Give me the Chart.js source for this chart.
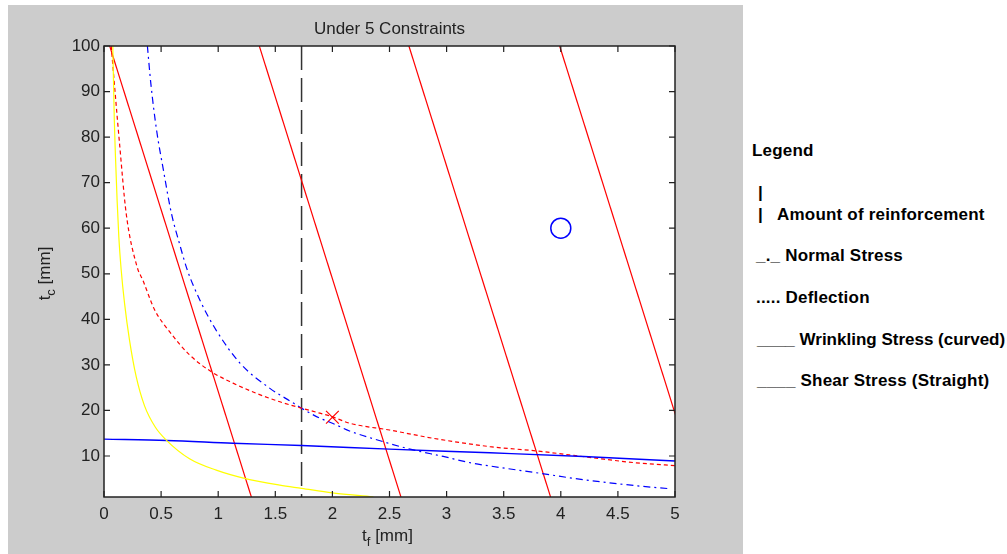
<!DOCTYPE html>
<html>
<head>
<meta charset="utf-8">
<script src="https://cdn.jsdelivr.net/npm/chart.js@4.4.1/dist/chart.umd.min.js"></script>
<style>
  body { margin: 0; background: #fff; width: 1007px; height: 554px; overflow: hidden; position: relative; font-family: "Liberation Sans", Arial, sans-serif; }
  #fig { position: absolute; left: 8px; top: 5px; width: 735px; height: 549px; background: #cccccc; }
  #legend div { position: absolute; font-weight: bold; font-size: 17px; line-height: 17px; letter-spacing: 0.2px; white-space: pre; color: #000; }
</style>
</head>
<body>
<div id="fig"><canvas id="lineChart" width="735" height="549"></canvas></div>
<div id="legend">
  <div style="left:752px; top:142px;">Legend</div>
  <div style="left:758px; top:184px;">|</div>
  <div style="left:758px; top:206px;">|</div>
  <div style="left:777px; top:206px;">Amount of reinforcement</div>
  <div style="left:756px; top:247px;">_._ Normal Stress</div>
  <div style="left:756px; top:289px;">..... Deflection</div>
  <div style="left:757px; top:331px; letter-spacing:0;">____ Wrinkling Stress (curved)</div>
  <div style="left:757px; top:372px;">____ Shear Stress (Straight)</div>
</div>
<script>
/************************ DATA ************************** */
const xTicks = [0, 0.5, 1, 1.5, 2, 2.5, 3, 3.5, 4, 4.5, 5];
const yTicks = [10, 20, 30, 40, 50, 60, 70, 80, 90, 100];

// normal stress (blue dash-dot)
const normalX = [0.38, 0.41, 0.46, 0.52, 0.59, 0.66, 0.73, 0.84, 0.98, 1.19, 1.45, 1.64, 1.73, 1.89, 2.0, 2.15, 2.41, 2.68, 2.97, 3.23, 3.38, 3.82, 4.11, 4.4, 4.69, 4.96];
const normalY = [100, 91.8, 81.6, 72.8, 63.3, 56.7, 50.8, 44.2, 37.7, 30.4, 24.9, 21.9, 20.5, 18.3, 17.2, 15.5, 13.4, 11.5, 9.9, 8.4, 7.8, 6.2, 5.1, 4.2, 3.4, 2.8];

// deflection (red dotted)
const deflX = [0.063, 0.136, 0.194, 0.29, 0.34, 0.443, 0.574, 0.749, 0.94, 1.13, 1.33, 1.54, 1.73, 1.89, 2.0, 2.15, 2.5, 2.88, 3.38, 3.79, 4.25, 4.66, 5.0];
const deflY = [100, 78.6, 63.3, 51.5, 48.6, 42.1, 37.3, 32.2, 28.5, 26.0, 23.8, 21.9, 20.5, 19.4, 18.6, 17.2, 15.7, 13.9, 12.05, 11.1, 9.7, 8.5, 7.9];

// wrinkling stress (yellow)
const wrinkX = [0.077, 0.09, 0.1, 0.115, 0.13, 0.15, 0.18, 0.223, 0.282, 0.355, 0.45, 0.545, 0.749, 0.983, 1.23, 1.54, 1.73, 2.0, 2.33, 2.36];
const wrinkY = [100, 84, 76, 66, 58, 51, 43.5, 35.5, 27.4, 21, 16.3, 13.5, 9.4, 6.9, 5.1, 3.6, 2.9, 1.9, 1.1, 1.0];

// blue solid
const blueX = [0, 0.55, 1.13, 1.73, 2.5, 3.38, 4.2, 5];
const blueY = [13.7, 13.4, 12.8, 12.3, 11.5, 10.7, 9.9, 8.9];

// shear stress, straight lines (t_f at t_c = 100 and t_c = 0)
const shearTopX = [0.05, 1.36, 2.67, 3.99];
const shearBottomX = [1.303, 2.613, 3.923, 5.243];
const shearY = [100, 0];

// amount of reinforcement
const reinfX = [1.73, 1.73];
const reinfY = [100, 0];

// markers
const circleX = [4];
const circleY = [60];
const crossX = [2];
const crossY = [18.5];

/************************ HELPERS ************************** */
const pts = (xs, ys) => xs.map((x, i) => ({ x: x, y: ys[i] }));
const FONT = "'Liberation Sans', Arial, sans-serif";
const TXT = "#222";

function line(data, color, dash, width, smooth) {
  let ds = {
    data: data,
    showLine: true,
    borderColor: color,
    backgroundColor: color,
    borderWidth: width || 1.2,
    borderDash: dash || [],
    pointRadius: 0,
    pointHoverRadius: 0,
    tension: 0,
  };
  if (smooth) ds.cubicInterpolationMode = "monotone";
  return ds;
}

let datasets = [
  line(pts(wrinkX, wrinkY), "#ffff00", [], 1.2, true),
  line(pts(blueX, blueY), "#0000ff", [], 1.4, true),
  line(pts(deflX, deflY), "#ff0000", [4, 3], 1.2, true),
  line(pts(normalX, normalY), "#0000ff", [7, 4, 2, 4], 1.2, true),
];
for (let i = 0; i < shearTopX.length; i++) {
  datasets.push(line(pts([shearTopX[i], shearBottomX[i]], shearY), "#ff0000"));
}
datasets.push(line(pts(reinfX, reinfY), "#333333", [24, 8], 1.5));
datasets.push({
  data: pts(circleX, circleY),
  showLine: false,
  pointStyle: "circle",
  pointRadius: 10,
  pointBorderWidth: 1.5,
  borderColor: "#0000ff",
  backgroundColor: "rgba(0,0,0,0)",
});
datasets.push({
  data: pts(crossX, crossY),
  showLine: false,
  pointStyle: "crossRot",
  pointRadius: 9,
  pointBorderWidth: 1.2,
  borderColor: "#ff0000",
  backgroundColor: "#ff0000",
});

/************************ MATLAB-LIKE AXES ************************** */
const matlabAxes = {
  id: "matlabAxes",
  beforeDraw(chart) {
    const a = chart.chartArea;
    const c = chart.ctx;
    c.save();
    c.fillStyle = "#ffffff";
    c.fillRect(a.left, a.top, a.right - a.left, a.bottom - a.top);
    c.restore();
  },
  afterDraw(chart) {
    const a = chart.chartArea;
    const c = chart.ctx;
    const xs = chart.scales.x;
    const ys = chart.scales.y;
    const tl = 6;
    c.save();
    c.strokeStyle = "#222";
    c.lineWidth = 1.5;
    c.strokeRect(a.left, a.top, a.right - a.left, a.bottom - a.top);
    c.lineWidth = 1.2;
    c.beginPath();
    xTicks.forEach((v) => {
      const px = xs.getPixelForValue(v);
      c.moveTo(px, a.bottom); c.lineTo(px, a.bottom - tl);
      c.moveTo(px, a.top); c.lineTo(px, a.top + tl);
    });
    yTicks.forEach((v) => {
      const py = ys.getPixelForValue(v);
      c.moveTo(a.left, py); c.lineTo(a.left + tl, py);
      c.moveTo(a.right, py); c.lineTo(a.right - tl, py);
    });
    c.stroke();

    // title
    const cx = (a.left + a.right) / 2;
    const cy = (a.top + a.bottom) / 2;
    c.fillStyle = TXT;
    c.font = "17px " + FONT;
    c.textAlign = "center";
    c.textBaseline = "alphabetic";
    c.fillText("Under 5 Constraints", cx, 28.5);

    // axis labels with subscripts
    function subLabel(main, sub, rest, x0, base) {
      c.textAlign = "left";
      c.font = "17px " + FONT;
      const w1 = c.measureText(main).width;
      const w3 = c.measureText(rest).width;
      c.font = "13px " + FONT;
      const w2 = c.measureText(sub).width;
      const start = x0 - (w1 + w2 + w3) / 2;
      c.font = "17px " + FONT;
      c.fillText(main, start, base);
      c.font = "13px " + FONT;
      c.fillText(sub, start + w1, base + 5);
      c.font = "17px " + FONT;
      c.fillText(rest, start + w1 + w2, base);
    }
    subLabel("t", "f", " [mm]", cx - 2, 536);

    c.save();
    c.translate(42, cy + 2);
    c.rotate(-Math.PI / 2);
    subLabel("t", "c", " [mm]", 0, 0);
    c.restore();

    c.restore();
  },
};

/************************ CHART ************************** */
const ctx = document.getElementById("lineChart");
const config = {
  type: "scatter",
  data: { datasets: datasets },
  options: {
    responsive: false,
    animation: false,
    events: [],
    layout: { padding: { left: 0, right: 68, top: 41, bottom: 0 } },
    plugins: {
      legend: { display: false },
      title: { display: false },
      tooltip: { enabled: false },
    },
    scales: {
      x: {
        type: "linear",
        min: 0,
        max: 5,
        afterBuildTicks: (s) => { s.ticks = xTicks.map((v) => ({ value: v })); },
        afterFit: (s) => { s.height = 57; },
        grid: { display: false, drawTicks: false },
        border: { display: false },
        ticks: {
          padding: 7,
          maxRotation: 0,
          autoSkip: false,
          color: TXT,
          font: { family: FONT, size: 17 },
          callback: (v) => String(v),
        },
      },
      y: {
        type: "linear",
        min: 1,
        max: 100,
        afterBuildTicks: (s) => { s.ticks = yTicks.map((v) => ({ value: v })); },
        afterFit: (s) => { s.width = 96; },
        grid: { display: false, drawTicks: false },
        border: { display: false },
        ticks: {
          padding: 4,
          autoSkip: false,
          color: TXT,
          font: { family: FONT, size: 17 },
          callback: (v) => String(v),
        },
      },
    },
  },
  plugins: [matlabAxes],
};

let myLineChart = new Chart(ctx, config);
</script>
</body>
</html>
